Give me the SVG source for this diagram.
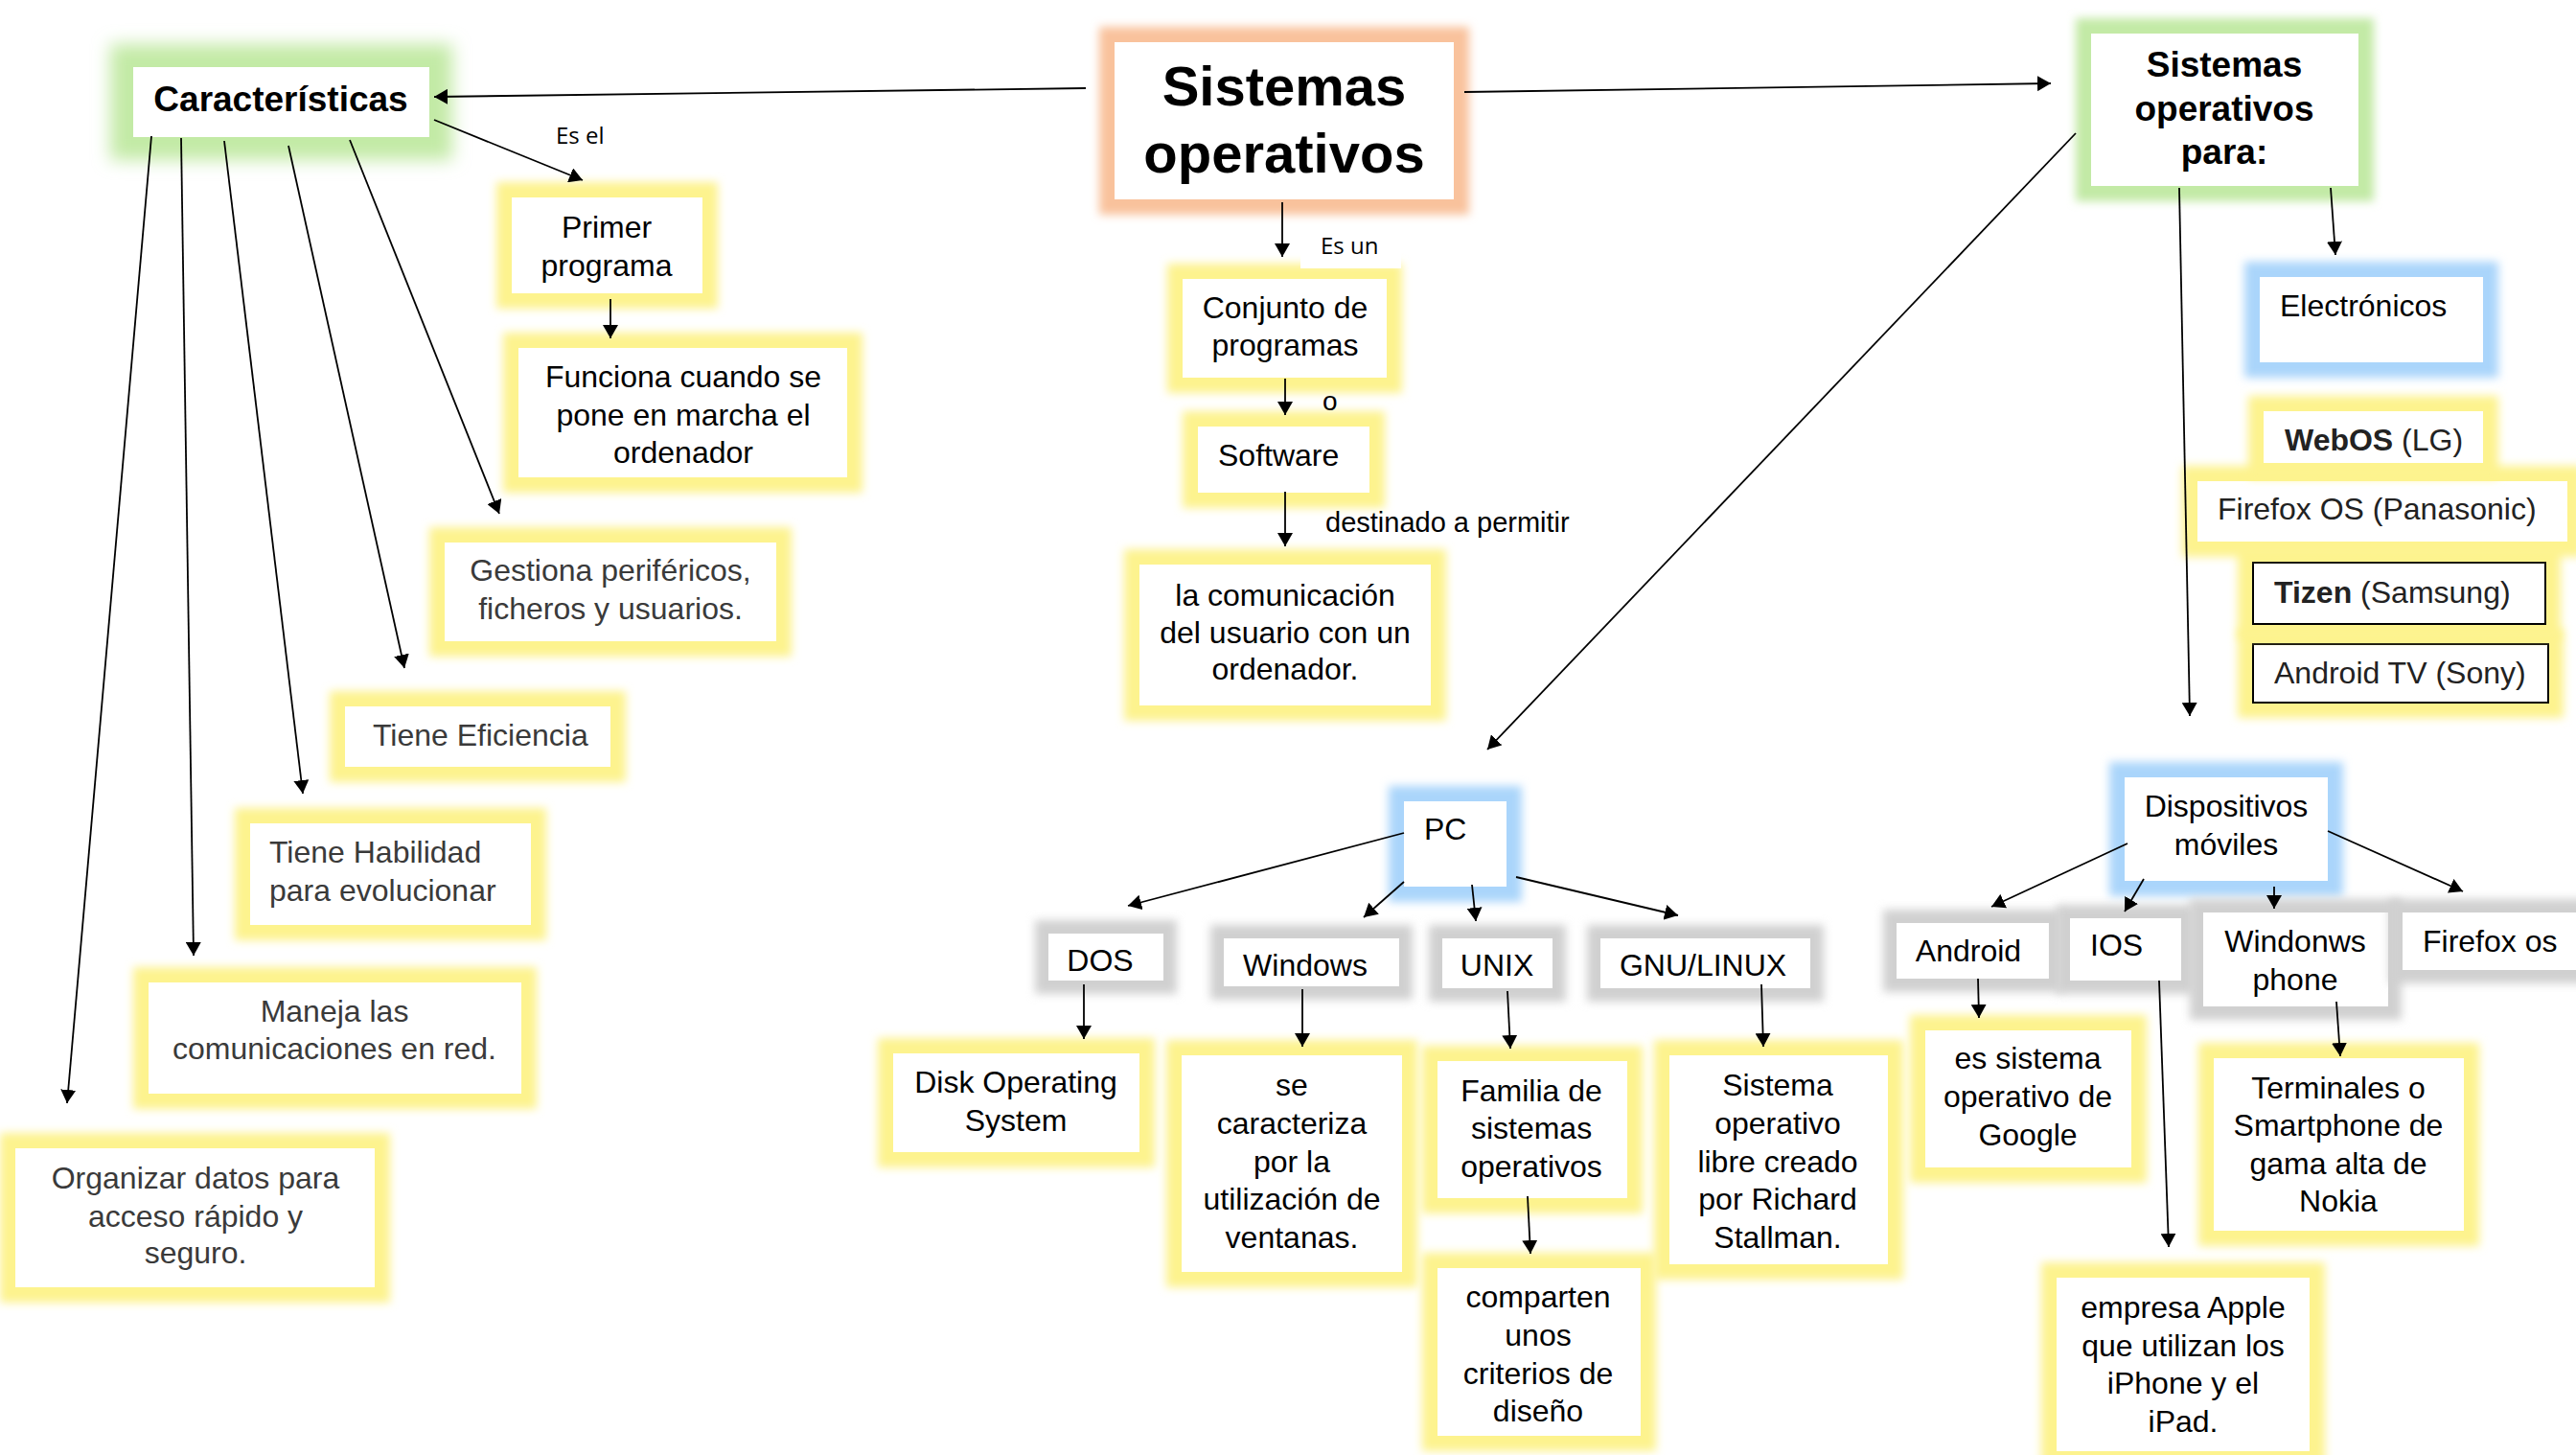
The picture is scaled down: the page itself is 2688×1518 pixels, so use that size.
<svg xmlns="http://www.w3.org/2000/svg" width="2688" height="1518" viewBox="0 0 2688 1518">
<defs>
<style>
.t{font-family:"Liberation Sans",Arial,sans-serif;font-size:32px;fill:#000;text-anchor:middle}
.l{text-anchor:start}
.dk{fill:#3a3a3a}
.dk2{fill:#222}
.b{font-weight:bold}
.lbl{font-family:"Open Sans","Liberation Sans",sans-serif;font-size:24px;fill:#000}
.box{fill:#fff}
.bx{fill:#fff;stroke:#000;stroke-width:2}
.gy{fill:#fdf38e}
.gg{fill:#c3eaa6}
.go{fill:#f9c29c}
.gb{fill:#aad5fb}
.gr{fill:#d0d0d0}
.glow{filter:url(#blur)}
#connectors line{stroke:#000;stroke-width:1.8;fill:none;marker-end:url(#ah)}
</style>
<filter id="blur" x="-50%" y="-50%" width="200%" height="200%"><feGaussianBlur stdDeviation="5"/></filter>
<filter id="blur2" x="-50%" y="-50%" width="200%" height="200%"><feGaussianBlur stdDeviation="9"/></filter>
<marker id="ah" markerUnits="userSpaceOnUse" markerWidth="16" markerHeight="16" refX="14" refY="8" orient="auto">
<path d="M0,0 L14,8 L0,16 z" fill="#000"/>
</marker>
</defs>
<rect width="2688" height="1518" fill="#fff"/>

<g id="sistemas-operativos">
<rect class="go glow" x="1147" y="28" width="386" height="196"/>
<rect class="box" x="1163" y="44" width="354" height="164"/>
<text class="t b" x="1340" y="110" style="font-size:58px">Sistemas</text>
<text class="t b" x="1340" y="180" style="font-size:58px">operativos</text>
</g>

<g id="caracteristicas">
<rect class="gg" x="115" y="46" width="357" height="121" filter="url(#blur2)"/>
<rect class="box" x="139" y="70" width="309" height="73"/>
<text class="t b" x="293" y="116" style="font-size:37px">Características</text>
</g>

<g id="primer-programa">
<rect class="gy glow" x="518" y="190" width="231" height="132"/>
<rect class="box" x="534" y="206" width="199" height="100"/>
<text class="t" x="633" y="248">Primer</text>
<text class="t" x="633" y="288">programa</text>
</g>

<g id="funciona">
<rect class="gy glow" x="525" y="347" width="375" height="167"/>
<rect class="box" x="541" y="363" width="343" height="135"/>
<text class="t" x="713" y="404">Funciona cuando se</text>
<text class="t" x="713" y="444">pone en marcha el</text>
<text class="t" x="713" y="483">ordenador</text>
</g>

<g id="gestiona">
<rect class="gy glow" x="448" y="550" width="378" height="135"/>
<rect class="box" x="464" y="566" width="346" height="103"/>
<text class="t dk" x="637" y="606">Gestiona periféricos,</text>
<text class="t dk" x="637" y="646">ficheros y usuarios.</text>
</g>

<g id="eficiencia">
<rect class="gy glow" x="344" y="721" width="309" height="95"/>
<rect class="box" x="360" y="737" width="277" height="63"/>
<text class="t l dk" x="389" y="778">Tiene Eficiencia</text>
</g>

<g id="habilidad">
<rect class="gy glow" x="245" y="843" width="325" height="138"/>
<rect class="box" x="261" y="859" width="293" height="106"/>
<text class="t l dk" x="281" y="900">Tiene Habilidad</text>
<text class="t l dk" x="281" y="940">para evolucionar</text>
</g>

<g id="maneja">
<rect class="gy glow" x="139" y="1009" width="421" height="148"/>
<rect class="box" x="155" y="1025" width="389" height="116"/>
<text class="t dk" x="349" y="1066">Maneja las</text>
<text class="t dk" x="349" y="1105">comunicaciones en red.</text>
</g>

<g id="organizar">
<rect class="gy glow" x="0" y="1182" width="407" height="177"/>
<rect class="box" x="16" y="1198" width="375" height="145"/>
<text class="t dk" x="204" y="1240">Organizar datos para</text>
<text class="t dk" x="204" y="1280">acceso rápido y</text>
<text class="t dk" x="204" y="1318">seguro.</text>
</g>

<g id="conjunto">
<rect class="gy glow" x="1218" y="275" width="245" height="135"/>
<rect class="box" x="1234" y="291" width="213" height="103"/>
<text class="t" x="1341" y="332">Conjunto de</text>
<text class="t" x="1341" y="371">programas</text>
</g>

<g id="software">
<rect class="gy glow" x="1234" y="429" width="211" height="101"/>
<rect class="box" x="1250" y="445" width="179" height="69"/>
<text class="t l" x="1271" y="486">Software</text>
</g>

<g id="comunicacion">
<rect class="gy glow" x="1173" y="573" width="336" height="179"/>
<rect class="box" x="1189" y="589" width="304" height="147"/>
<text class="t" x="1341" y="632">la comunicación</text>
<text class="t" x="1341" y="671">del usuario con un</text>
<text class="t" x="1341" y="709">ordenador.</text>
</g>

<g id="sistemas-para">
<rect class="gg glow" x="2166" y="19" width="311" height="191"/>
<rect class="box" x="2182" y="35" width="279" height="159"/>
<text class="t b" x="2321" y="80" style="font-size:37px">Sistemas</text>
<text class="t b" x="2321" y="126" style="font-size:37px">operativos</text>
<text class="t b" x="2321" y="171" style="font-size:37px">para:</text>
</g>

<g id="electronicos">
<rect class="gb glow" x="2342" y="273" width="265" height="121"/>
<rect class="box" x="2358" y="289" width="233" height="89"/>
<text class="t l" x="2379" y="330">Electrónicos</text>
</g>

<g id="android-tv">
<rect class="gy glow" x="2335" y="656" width="340" height="93"/>
<rect class="bx" x="2351" y="672" width="308" height="61"/>
<text class="t l dk2" x="2373" y="713">Android TV (Sony)</text>
</g>

<g id="tizen">
<rect class="gy glow" x="2335" y="571" width="337" height="96"/>
<rect class="bx" x="2351" y="587" width="305" height="64"/>
<text class="t l dk2" x="2373" y="629"><tspan class="b">Tizen</tspan> (Samsung)</text>
</g>

<g id="firefox-os-panasonic">
<rect class="gy glow" x="2277" y="486" width="418" height="95"/>
<rect class="box" x="2293" y="502" width="386" height="63"/>
<text class="t l dk2" x="2314" y="542">Firefox OS (Panasonic)</text>
</g>

<g id="webos">
<rect class="gy glow" x="2346" y="413" width="261" height="86"/>
<rect class="box" x="2362" y="429" width="229" height="54"/>
<text class="t l dk2" x="2384" y="470"><tspan class="b">WebOS</tspan> (LG)</text>
</g>

<g id="pc">
<rect class="gb glow" x="1449" y="820" width="139" height="121"/>
<rect class="box" x="1465" y="836" width="107" height="89"/>
<text class="t l" x="1486" y="876">PC</text>
</g>

<g id="dos">
<rect class="gr glow" x="1080" y="960" width="148" height="77"/>
<rect class="box" x="1094" y="974" width="120" height="49"/>
<text class="t" x="1148" y="1013">DOS</text>
</g>

<g id="windows">
<rect class="gr glow" x="1263" y="965" width="211" height="78"/>
<rect class="box" x="1277" y="979" width="183" height="50"/>
<text class="t" x="1362" y="1018">Windows</text>
</g>

<g id="unix">
<rect class="gr glow" x="1491" y="965" width="143" height="80"/>
<rect class="box" x="1505" y="979" width="115" height="52"/>
<text class="t" x="1562" y="1018">UNIX</text>
</g>

<g id="gnu-linux">
<rect class="gr glow" x="1656" y="965" width="247" height="80"/>
<rect class="box" x="1670" y="979" width="219" height="52"/>
<text class="t" x="1777" y="1018">GNU/LINUX</text>
</g>

<g id="disk">
<rect class="gy glow" x="916" y="1083" width="289" height="135"/>
<rect class="box" x="932" y="1099" width="257" height="103"/>
<text class="t" x="1060" y="1140">Disk Operating</text>
<text class="t" x="1060" y="1180">System</text>
</g>

<g id="se-caracteriza">
<rect class="gy glow" x="1217" y="1085" width="262" height="258"/>
<rect class="box" x="1233" y="1101" width="230" height="226"/>
<text class="t" x="1348" y="1143">se</text>
<text class="t" x="1348" y="1183">caracteriza</text>
<text class="t" x="1348" y="1223">por la</text>
<text class="t" x="1348" y="1262">utilización de</text>
<text class="t" x="1348" y="1302">ventanas.</text>
</g>

<g id="familia">
<rect class="gy glow" x="1484" y="1091" width="230" height="175"/>
<rect class="box" x="1500" y="1107" width="198" height="143"/>
<text class="t" x="1598" y="1149">Familia de</text>
<text class="t" x="1598" y="1188">sistemas</text>
<text class="t" x="1598" y="1228">operativos</text>
</g>

<g id="comparten">
<rect class="gy glow" x="1484" y="1307" width="244" height="207"/>
<rect class="box" x="1500" y="1323" width="212" height="175"/>
<text class="t" x="1605" y="1364">comparten</text>
<text class="t" x="1605" y="1404">unos</text>
<text class="t" x="1605" y="1444">criterios de</text>
<text class="t" x="1605" y="1483">diseño</text>
</g>

<g id="sistema-libre">
<rect class="gy glow" x="1726" y="1085" width="260" height="250"/>
<rect class="box" x="1742" y="1101" width="228" height="218"/>
<text class="t" x="1855" y="1143">Sistema</text>
<text class="t" x="1855" y="1183">operativo</text>
<text class="t" x="1855" y="1223">libre creado</text>
<text class="t" x="1855" y="1262">por Richard</text>
<text class="t" x="1855" y="1302">Stallman.</text>
</g>

<g id="dispositivos">
<rect class="gb glow" x="2201" y="795" width="244" height="140"/>
<rect class="box" x="2217" y="811" width="212" height="108"/>
<text class="t" x="2323" y="852">Dispositivos</text>
<text class="t" x="2323" y="892">móviles</text>
</g>

<g id="android">
<rect class="gr glow" x="1965" y="949" width="187" height="86"/>
<rect class="box" x="1979" y="963" width="159" height="58"/>
<text class="t" x="2054" y="1003">Android</text>
</g>

<g id="ios">
<rect class="gr glow" x="2146" y="944" width="144" height="93"/>
<rect class="box" x="2160" y="958" width="116" height="65"/>
<text class="t l" x="2181" y="997">IOS</text>
</g>

<g id="windonws-phone">
<rect class="gr glow" x="2285" y="938" width="221" height="126"/>
<rect class="box" x="2299" y="952" width="193" height="98"/>
<text class="t" x="2395" y="993">Windonws</text>
<text class="t" x="2395" y="1033">phone</text>
</g>

<g id="firefox-os">
<rect class="gr glow" x="2493" y="938" width="228" height="88"/>
<rect class="box" x="2507" y="952" width="200" height="60"/>
<text class="t l" x="2528" y="993">Firefox os</text>
</g>

<g id="google">
<rect class="gy glow" x="1993" y="1059" width="247" height="175"/>
<rect class="box" x="2009" y="1075" width="215" height="143"/>
<text class="t" x="2116" y="1115">es sistema</text>
<text class="t" x="2116" y="1155">operativo de</text>
<text class="t" x="2116" y="1195">Google</text>
</g>

<g id="terminales">
<rect class="gy glow" x="2294" y="1088" width="293" height="212"/>
<rect class="box" x="2310" y="1104" width="261" height="180"/>
<text class="t" x="2440" y="1146">Terminales o</text>
<text class="t" x="2440" y="1185">Smartphone de</text>
<text class="t" x="2440" y="1225">gama alta de</text>
<text class="t" x="2440" y="1264">Nokia</text>
</g>

<g id="apple">
<rect class="gy glow" x="2130" y="1317" width="296" height="213"/>
<rect class="box" x="2146" y="1333" width="264" height="181"/>
<text class="t" x="2278" y="1375">empresa Apple</text>
<text class="t" x="2278" y="1415">que utilizan los</text>
<text class="t" x="2278" y="1454">iPhone y el</text>
<text class="t" x="2278" y="1494">iPad.</text>
</g>

<g id="labels">
<text class="lbl" x="580" y="150">Es el</text>
<rect x="1357" y="236" width="105" height="44" fill="#fff"/>
<text class="lbl" x="1378" y="265">Es un</text>
<text class="t l" x="1380" y="428" style="font-size:28px">o</text>
<text class="t l" x="1383" y="555" style="font-size:29px">destinado a permitir</text>
</g>

<g id="connectors">
<line x1="1133" y1="92" x2="453" y2="101"/>
<line x1="1528" y1="96" x2="2140" y2="87"/>
<line x1="453" y1="125" x2="608" y2="188"/>
<line x1="637" y1="312" x2="637" y2="353"/>
<line x1="365" y1="146" x2="521" y2="536"/>
<line x1="301" y1="152" x2="422" y2="697"/>
<line x1="234" y1="147" x2="316" y2="828"/>
<line x1="189" y1="144" x2="202" y2="997"/>
<line x1="158" y1="142" x2="70" y2="1151"/>
<line x1="1338" y1="211" x2="1338" y2="268"/>
<line x1="1341" y1="395" x2="1341" y2="433"/>
<line x1="1341" y1="513" x2="1341" y2="570"/>
<line x1="2166" y1="139" x2="1552" y2="782"/>
<line x1="2432" y1="196" x2="2437" y2="266"/>
<line x1="2274" y1="196" x2="2285" y2="747"/>
<line x1="1465" y1="869" x2="1177" y2="945"/>
<line x1="1465" y1="920" x2="1423" y2="957"/>
<line x1="1536" y1="923" x2="1540" y2="961"/>
<line x1="1582" y1="915" x2="1751" y2="955"/>
<line x1="1131" y1="1027" x2="1131" y2="1084"/>
<line x1="1359" y1="1032" x2="1359" y2="1092"/>
<line x1="1573" y1="1034" x2="1576" y2="1094"/>
<line x1="1838" y1="1027" x2="1840" y2="1092"/>
<line x1="1594" y1="1248" x2="1597" y2="1308"/>
<line x1="2220" y1="880" x2="2078" y2="946"/>
<line x1="2237" y1="917" x2="2217" y2="951"/>
<line x1="2373" y1="925" x2="2373" y2="948"/>
<line x1="2429" y1="867" x2="2570" y2="930"/>
<line x1="2064" y1="1021" x2="2065" y2="1062"/>
<line x1="2253" y1="1023" x2="2263" y2="1301"/>
<line x1="2438" y1="1045" x2="2442" y2="1102"/>
</g>
</svg>
